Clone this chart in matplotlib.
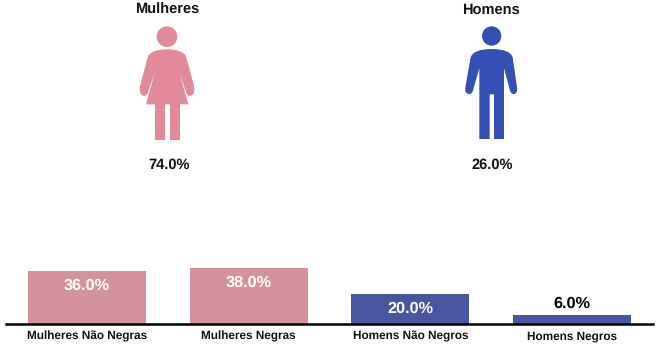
import matplotlib
matplotlib.use("Agg")
import matplotlib.pyplot as plt
from matplotlib.path import Path
from matplotlib.patches import PathPatch, Circle

plt.rcParams['font.family'] = ['Liberation Sans', 'DejaVu Sans']
plt.rcParams['text.hinting'] = 'none'

W, H = 658, 354
groups = ["Mulheres", "Homens"]
group_values = [74.0, 26.0]
categories = ["Mulheres Não Negras", "Mulheres Negras", "Homens Não Negros", "Homens Negros"]
values = [36.0, 38.0, 20.0, 6.0]
label_colors = ["white", "white", "white", "black"]
bar_colors = ["#D4929C", "#D4929C", "#4A55A2", "#4A55A2"]
icon_colors = ["#E38A9A", "#3550B5"]

fig = plt.figure(figsize=(W / 100, H / 100), dpi=100, facecolor="white")

# Bars
base_y = 323.5
ax = fig.add_axes([6 / W, 1 - base_y / H, 647 / W, 100 / H])
x = range(len(categories))
ax.bar(x, values, width=0.73, color=bar_colors)
ax.set_xlim(-0.5, 3.5)
ax.set_ylim(0, 100 / 1.46)
ax.set_yticks([])
ax.set_xticks(list(x))
ax.set_xticklabels(categories, fontsize=8.5, fontweight="bold", color="#111111")
ax.tick_params(axis="x", length=0, pad=5.2)
for s in ("top", "left", "right"):
    ax.spines[s].set_visible(False)
ax.spines["bottom"].set_linewidth(1.8)
ax.patch.set_alpha(0)
for i, (v, c) in enumerate(zip(values, label_colors)):
    off = 11 if v < 10 else -14.5
    ax.annotate(f"{v:.1f}%", (i, v), xytext=(0, off * 0.72), textcoords="offset points",
                ha="center", va="center", fontsize=11.7, fontweight="bold", color=c)

# Pictograms and their captions, in pixel coordinates of the figure
ov = fig.add_axes([0, 0, 1, 1])
ov.set_xlim(0, W)
ov.set_ylim(H, 0)
ov.axis("off")
ov.patch.set_alpha(0)


def draw_icon(x0, head, r, parts, color):
    """Zoomed-crop coordinates (3x) to figure pixels."""
    ov.add_patch(Circle((x0 + head[0] / 3, head[1] / 3), r / 3, fc=color, ec="none"))
    for part in parts:
        verts = [(x0 + p[0] / 3, p[1] / 3) for p, _ in part]
        codes = [c for _, c in part]
        ov.add_patch(PathPatch(Path(verts, codes), fc=color, ec="none"))


M, L, C, Z = Path.MOVETO, Path.LINETO, Path.CURVE3, Path.CLOSEPOLY
woman = [
    [((141, 148), M), ((96, 148), C), ((84, 168), C), ((60, 258), L), ((56, 286), C), ((72, 288), C),
     ((82, 288), C), ((86, 270), C), ((104, 218), L), ((78, 313), L), ((205, 313), L), ((178, 218), L),
     ((196, 270), L), ((200, 288), C), ((210, 288), C), ((226, 286), C), ((222, 258), C), ((198, 168), L),
     ((186, 148), C), ((141, 148), C), ((141, 148), Z)],
    [((104, 313), M), ((134, 313), L), ((134, 420), L), ((104, 420), L), ((104, 313), Z)],
    [((149, 313), M), ((179, 313), L), ((179, 420), L), ((149, 420), L), ((149, 313), Z)],
]
man = [
    [((155, 147), M), ((100, 147), C), ((92, 172), C), ((76, 262), L), ((73, 282), C), ((88, 282), C),
     ((98, 282), C), ((101, 264), C), ((118, 205), L), ((118, 417), L), ((149, 417), L), ((149, 283), L),
     ((162, 283), L), ((162, 417), L), ((192, 417), L), ((192, 205), L), ((208, 264), L), ((211, 282), C),
     ((220, 282), C), ((234, 282), C), ((231, 262), C), ((218, 172), L), ((210, 147), C), ((155, 147), C),
     ((155, 147), Z)],
]
draw_icon(120, (141, 110), 31, woman, icon_colors[0])
draw_icon(440, (155, 108), 29, man, icon_colors[1])

for cx, g, v in zip([167, 491], groups, group_values):
    ov.text(cx, 10, g, ha="center", va="center", fontsize=10.5, fontweight="bold", color="#111111")
    ov.text(cx + 2 if g == "Mulheres" else cx + 1, 165, f"{v:.1f}%", ha="center", va="center",
            fontsize=10.5, fontweight="bold", color="#111111")

fig.savefig("out.png", dpi=100)
